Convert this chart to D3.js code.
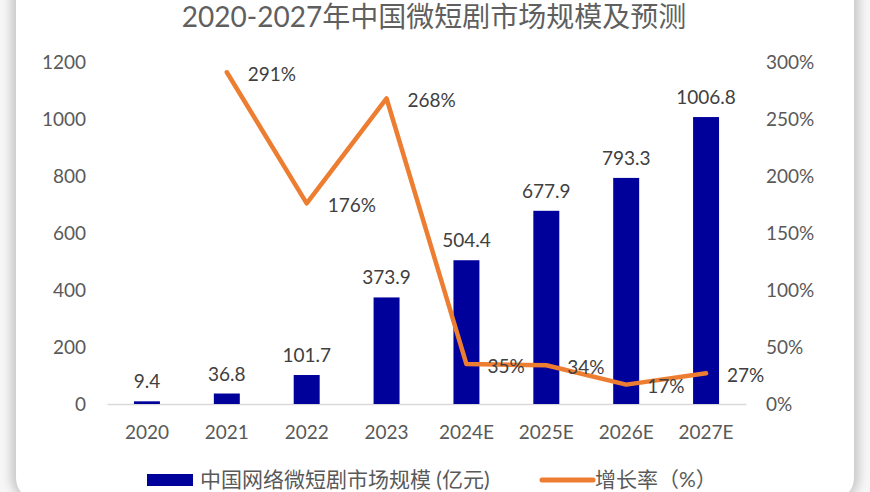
<!DOCTYPE html>
<html><head><meta charset="utf-8">
<script src="https://cdn.jsdelivr.net/npm/d3@7"></script>
<style>body{margin:0;background:#fff}svg{display:block}</style>
</head><body><svg id="c" width="870" height="492"></svg>
<script>
const categories = ["2020","2021","2022","2023","2024E","2025E","2026E","2027E"];
const marketSize = [9.4,36.8,101.7,373.9,504.4,677.9,793.3,1006.8];
const growthCats = ["2021","2022","2023","2024E","2025E","2026E","2027E"];
const growthRate = [291,176,268,35,34,17,27];
const leftTicks = [0,200,400,600,800,1000,1200];
const rightTicks = [0,50,100,150,200,250,300];
const titleText = "2020-2027年中国微短剧市场规模及预测";
const legendLabels = ["中国网络微短剧市场规模 (亿元)","增长率（%）"];

const W = 870, H = 492;
const FONT = "Lato, 'Noto Sans CJK SC', sans-serif";
const BAR = "#00009a", LINE = "#ED7D31";
const svg = d3.select("#c");

// card background with soft shadow
const defs = svg.append("defs");
const f = defs.append("filter").attr("id","sh").attr("x","-10%").attr("y","-10%").attr("width","120%").attr("height","120%");
f.append("feGaussianBlur").attr("stdDeviation",5);
svg.append("rect").attr("width",W).attr("height",H).attr("fill","#f6f6f6");
svg.append("rect").attr("x",11).attr("y",-40).attr("width",W-22).attr("height",H+48).attr("rx",22)
  .attr("fill","#c8c8c8").attr("filter","url(#sh)");
svg.append("rect").attr("x",16).attr("y",-40).attr("width",W-32).attr("height",H+48).attr("rx",22)
  .attr("fill","#fff");

const m = {l:107, r:746, t:62, b:404};
const x = d3.scaleBand().domain(categories).range([m.l,m.r]).paddingInner(0.675).paddingOuter(0.3375);
const yL = d3.scaleLinear().domain([0,1200]).range([m.b,m.t]);
const yR = d3.scaleLinear().domain([0,300]).range([m.b,m.t]);

// title
svg.append("text").attr("x",434).attr("y",27).attr("text-anchor","middle")
  .attr("font-family",FONT).attr("font-size",28).attr("fill","#5f5f5f").text(titleText);

// axes
const axL = d3.axisLeft(yL).tickValues(leftTicks).tickFormat(d3.format("d")).tickSize(0).tickPadding(21);
const gL = svg.append("g").attr("transform",`translate(${m.l},0)`).call(axL);
gL.select(".domain").remove();
gL.selectAll("text").attr("font-family",FONT).attr("font-size",19).attr("fill","#595959");

const axR = d3.axisRight(yR).tickValues(rightTicks).tickFormat(d=>d+"%").tickSize(0).tickPadding(20);
const gR = svg.append("g").attr("transform",`translate(${m.r},0)`).call(axR);
gR.select(".domain").remove();
gR.selectAll("text").attr("font-family",FONT).attr("font-size",19).attr("fill","#595959");

const axB = d3.axisBottom(x).tickSize(0).tickPadding(22);
const gB = svg.append("g").attr("transform",`translate(0,${m.b})`).call(axB);
gB.select(".domain").attr("stroke","#d9d9d9").attr("stroke-width",1.5);
gB.selectAll("text").attr("font-family",FONT).attr("font-size",19).attr("fill","#595959");

// bars
svg.append("g").selectAll("rect").data(categories).join("rect")
  .attr("x",d=>x(d)).attr("width",x.bandwidth())
  .attr("y",(d,i)=>yL(marketSize[i])).attr("height",(d,i)=>m.b-yL(marketSize[i]))
  .attr("fill",BAR);
svg.append("g").selectAll("text").data(categories).join("text")
  .attr("x",d=>x(d)+x.bandwidth()/2).attr("y",(d,i)=>yL(marketSize[i])-13)
  .attr("text-anchor","middle").attr("font-family",FONT).attr("font-size",19).attr("fill","#404040")
  .text((d,i)=>marketSize[i]);

// line
const cx = d=>x(d)+x.bandwidth()/2;
const line = d3.line().x((d,i)=>cx(growthCats[i])).y(d=>yR(d));
svg.append("path").datum(growthRate).attr("d",line).attr("fill","none")
  .attr("stroke",LINE).attr("stroke-width",4.5).attr("stroke-linejoin","round").attr("stroke-linecap","round");
svg.append("g").selectAll("text").data(growthRate).join("text")
  .attr("x",(d,i)=>cx(growthCats[i])+21).attr("y",d=>yR(d)+2).attr("dy","0.35em")
  .attr("font-family",FONT).attr("font-size",19).attr("fill","#404040").text(d=>d+"%");

// legend
const lg = svg.append("g");
lg.append("rect").attr("x",147).attr("y",474).attr("width",46).attr("height",12).attr("fill",BAR);
lg.append("text").attr("x",200).attr("y",480).attr("dy","0.35em").attr("font-family",FONT)
  .attr("font-size",21).attr("fill","#595959").text(legendLabels[0]);
lg.append("line").attr("x1",542).attr("x2",593).attr("y1",480).attr("y2",480)
  .attr("stroke",LINE).attr("stroke-width",5).attr("stroke-linecap","round");
lg.append("text").attr("x",595).attr("y",480).attr("dy","0.35em").attr("font-family",FONT)
  .attr("font-size",21).attr("fill","#595959").text(legendLabels[1]);
</script></body></html>
